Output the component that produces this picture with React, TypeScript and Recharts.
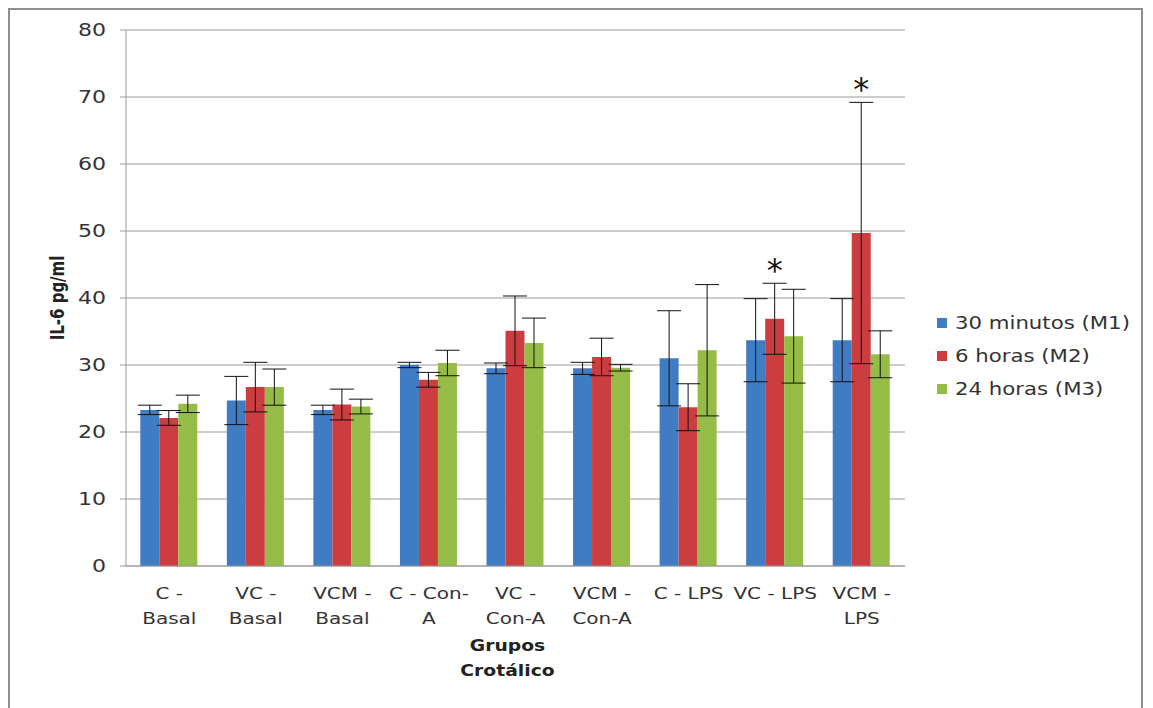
import React from "react";
import {
  BarChart,
  Bar,
  XAxis,
  YAxis,
  CartesianGrid,
  ErrorBar,
  LabelList,
} from "recharts";

// IL-6 (pg/ml) per group, three collection times, mean and error
const groups = [
  "C - Basal",
  "VC - Basal",
  "VCM - Basal",
  "C - Con-A",
  "VC - Con-A",
  "VCM - Con-A",
  "C - LPS",
  "VC - LPS",
  "VCM - LPS",
];
const groupLines = [
  ["C -", "Basal"],
  ["VC -", "Basal"],
  ["VCM -", "Basal"],
  ["C - Con-", "A"],
  ["VC -", "Con-A"],
  ["VCM -", "Con-A"],
  ["C - LPS"],
  ["VC - LPS"],
  ["VCM -", "LPS"],
];
const m1 = [23.3, 24.7, 23.3, 30.0, 29.5, 29.5, 31.0, 33.7, 33.7];
const m1Err = [0.7, 3.6, 0.7, 0.4, 0.8, 0.9, 7.1, 6.2, 6.2];
const m2 = [22.1, 26.7, 24.1, 27.8, 35.1, 31.2, 23.7, 36.9, 49.7];
const m2Err = [1.1, 3.7, 2.3, 1.1, 5.2, 2.8, 3.5, 5.3, 19.5];
const m3 = [24.2, 26.7, 23.8, 30.3, 33.3, 29.6, 32.2, 34.3, 31.6];
const m3Err = [1.3, 2.7, 1.1, 1.9, 3.7, 0.5, 9.8, 7.0, 3.5];
// significance marks on the 6 horas series
const m2Marks = ["", "", "", "", "", "", "", "*", "*"];
const yTicks = [0, 10, 20, 30, 40, 50, 60, 70, 80];

const seriesNames = ["30 minutos (M1)", "6 horas (M2)", "24 horas (M3)"];
const colors = ["#3f7cc4", "#cc3d40", "#96bc48"];

const data = groups.map((g, i) => ({
  group: g,
  m1: m1[i],
  m1Err: m1Err[i],
  m2: m2[i],
  m2Err: m2Err[i],
  m3: m3[i],
  m3Err: m3Err[i],
}));

const FONT = "'DejaVu Sans', sans-serif";
const SX = 1.25; // text is drawn a little wide
const TEXT = "#333";

const YTick = (props: any) => {
  const { x, y, payload } = props;
  return (
    <g transform={`translate(${x},${y})`}>
      <text
        transform="scale(1.3,1)"
        textAnchor="end"
        dy="0.36em"
        fontSize={17}
        fontFamily={FONT}
        fill={TEXT}
      >
        {payload.value}
      </text>
    </g>
  );
};

const XTick = (props: any) => {
  const { x, y, payload } = props;
  const lines = groupLines[groups.indexOf(payload.value)] || [payload.value];
  return (
    <g transform={`translate(${x},${y})`}>
      <text
        transform={`scale(${SX},1)`}
        textAnchor="middle"
        fontSize={16}
        fontFamily={FONT}
        fill={TEXT}
      >
        {lines.map((l, k) => (
          <tspan key={k} x={0} y={25 + k * 25}>
            {l}
          </tspan>
        ))}
      </text>
    </g>
  );
};

const YTitle = (props: any) => {
  const { viewBox } = props;
  const cy = viewBox.y + viewBox.height / 2;
  return (
    <text
      transform={`translate(54,${cy}) rotate(-90) scale(1,${SX})`}
      textAnchor="middle"
      fontSize={15}
      fontWeight="bold"
      fontFamily={FONT}
      fill="#222"
    >
      IL-6 pg/ml
    </text>
  );
};

const XTitle = (props: any) => {
  const { viewBox } = props;
  const cx = viewBox.x + viewBox.width / 2 - 8;
  return (
    <g transform={`translate(${cx},${viewBox.y})`}>
      <text
        transform={`scale(${SX},1)`}
        textAnchor="middle"
        fontSize={15}
        fontWeight="bold"
        fontFamily={FONT}
        fill="#222"
      >
        <tspan x={0} y={85}>
          Grupos
        </tspan>
        <tspan x={0} y={110}>
          Crotálico
        </tspan>
      </text>
    </g>
  );
};

// asterisk placed above the top of the error bar
const MarkLabel = (props: any) => {
  const { x, y, width, height, index } = props;
  const mark = m2Marks[index];
  if (!mark) return null;
  const pxPerUnit = height / m2[index];
  const top = y - m2Err[index] * pxPerUnit;
  return (
    <text
      x={x + width / 2}
      y={top - 2}
      textAnchor="middle"
      fontSize={32}
      fontFamily="'DejaVu Sans', sans-serif"
      fill="#111"
    >
      {mark}
    </text>
  );
};

const LegendBox = () => (
  <div
    style={{
      position: "absolute",
      left: 927,
      top: 296,
      fontFamily: FONT,
      fontSize: 17,
      color: TEXT,
    }}
  >
    {seriesNames.map((n, i) => (
      <div
        key={n}
        style={{ display: "flex", alignItems: "center", height: 33 }}
      >
        <span
          style={{
            width: 10,
            height: 10,
            background: colors[i],
            marginRight: 8,
            display: "inline-block",
          }}
        />
        <span
          style={{
            display: "inline-block",
            transform: `scaleX(${SX})`,
            transformOrigin: "left center",
            whiteSpace: "nowrap",
          }}
        >
          {n}
        </span>
      </div>
    ))}
  </div>
);

export default function App() {
  return (
    <div
      style={{
        position: "relative",
        width: 1135,
        height: 700,
        boxSizing: "border-box",
        border: "2px solid #8e8e8e",
        borderBottom: "none",
        background: "#fff",
      }}
    >
      <BarChart
        width={1131}
        height={698}
        data={data}
        margin={{ top: 20, right: 236, bottom: 0, left: 0 }}
        barCategoryGap="16.5%"
        barGap={0}
      >
        <CartesianGrid vertical={false} stroke="#9a9a9a" />
        <XAxis
          dataKey="group"
          height={142}
          interval={0}
          tick={<XTick />}
          tickLine={false}
          axisLine={{ stroke: "#9a9a9a" }}
          label={<XTitle />}
        />
        <YAxis
          width={116}
          domain={[0, 80]}
          ticks={yTicks}
          tick={<YTick />}
          tickSize={6}
          tickMargin={14}
          tickLine={{ stroke: "#9a9a9a" }}
          axisLine={{ stroke: "#9a9a9a" }}
          label={<YTitle />}
        />
        <Bar dataKey="m1" name={seriesNames[0]} fill={colors[0]} isAnimationActive={false}>
          <ErrorBar dataKey="m1Err" width={12} stroke="#111" strokeWidth={1} />
        </Bar>
        <Bar dataKey="m2" name={seriesNames[1]} fill={colors[1]} isAnimationActive={false}>
          <ErrorBar dataKey="m2Err" width={12} stroke="#111" strokeWidth={1} />
          <LabelList dataKey="m2" content={<MarkLabel />} />
        </Bar>
        <Bar dataKey="m3" name={seriesNames[2]} fill={colors[2]} isAnimationActive={false}>
          <ErrorBar dataKey="m3Err" width={12} stroke="#111" strokeWidth={1} />
        </Bar>
      </BarChart>
      <LegendBox />
    </div>
  );
}
